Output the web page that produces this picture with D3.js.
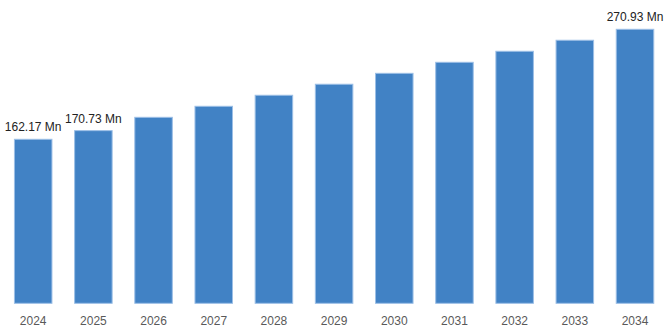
<!DOCTYPE html>
<html>
<head>
<meta charset="utf-8">
<script src="https://cdn.jsdelivr.net/npm/d3@7"></script>
<style>
  html, body { margin: 0; padding: 0; background: #fff; }
  svg { display: block; }
</style>
</head>
<body>
<svg id="chart" width="668" height="334"></svg>
<script>
const years = ["2024","2025","2026","2027","2028","2029","2030","2031","2032","2033","2034"];
const values = [162.17, 170.73, 183.9, 194.8, 205.7, 216.6, 227.4, 238.3, 249.2, 260.1, 270.93];
const labelledYears = ["2024","2025","2034"];
const unit = " Mn";

const svg = d3.select("#chart");
const W = 668, H = 334;
const baseY = 303.3;

const x = d3.scaleBand().domain(years).range([3.1, 665.1]).paddingInner(0.36).paddingOuter(0.18);
const y = d3.scaleLinear().domain([0, 270.93]).range([baseY, 29.3]);

svg.selectAll("rect.bar")
  .data(years)
  .join("rect")
  .attr("class", "bar")
  .attr("x", d => x(d) + 0.5)
  .attr("y", (d, i) => y(values[i]))
  .attr("width", x.bandwidth() - 1)
  .attr("height", (d, i) => baseY - y(values[i]))
  .attr("fill", "#4182c5")
  .attr("stroke", "#9cbfe6")
  .attr("stroke-width", 1);

svg.selectAll("text.val")
  .data(years.filter(d => labelledYears.includes(d)))
  .join("text")
  .attr("class", "val")
  .attr("x", d => x(d) + x.bandwidth() / 2)
  .attr("y", d => y(values[years.indexOf(d)]) - 8)
  .attr("text-anchor", "middle")
  .attr("font-family", "Liberation Sans, Arial, Helvetica, sans-serif")
  .attr("font-size", "12px")
  .attr("fill", "#222")
  .text(d => values[years.indexOf(d)].toFixed(2) + unit);

const axis = d3.axisBottom(x).tickSize(0).tickPadding(0);
const g = svg.append("g").attr("transform", `translate(0, ${baseY})`).call(axis);
g.select(".domain").remove();
g.selectAll("text")
  .attr("dy", null)
  .attr("y", 22)
  .attr("font-family", "Liberation Sans, Arial, Helvetica, sans-serif")
  .attr("font-size", "12px")
  .attr("fill", "#595959");
</script>
</body>
</html>
